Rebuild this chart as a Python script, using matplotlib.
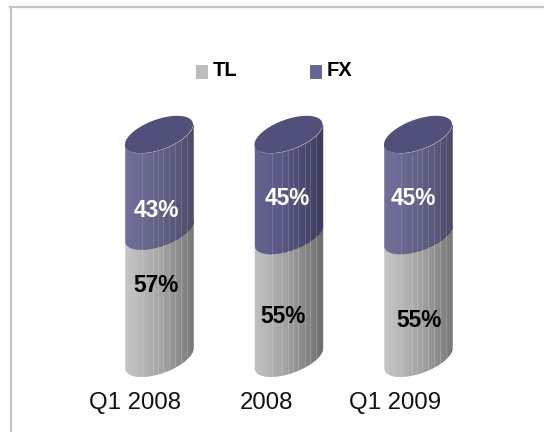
import numpy as np
import matplotlib
matplotlib.use('Agg')
import matplotlib.pyplot as plt
from matplotlib.colors import to_rgb

plt.rcParams['font.family'] = ['Liberation Sans', 'DejaVu Sans']

categories = ['Q1 2008', '2008', 'Q1 2009']
tl = [57, 55, 55]
fx = [43, 45, 45]

W, H = 544, 432
fig = plt.figure(figsize=(W / 100, H / 100), dpi=100)

# axes placed so 0-100% is the cylinder height, one category = 129.5 px
left_px = 159 - 0.5 * 129.5
ax = fig.add_axes([left_px / W, (H - 357.5) / H, 3 * 129.5 / W, 223 / H])
ax.set_xlim(-0.5, 2.5)
ax.set_ylim(0, 100)
ax.patch.set_alpha(0)
for s in ax.spines.values():
    s.set_visible(False)
ax.set_yticks([])

# cylinder shape, in axes units
half_w = 34 / 129.5
tilt = 10 / 2.23
depth = 15.8 / 2.23
stripes = [0.25, 0.41, 0.49, 0.565, 0.64, 0.74, 0.82, 0.91]


def front_arc(u, y0):
    # lower edge of the tilted ellipse, u runs -1..1 across the width
    return y0 + tilt * u - depth * np.sqrt(1 - u ** 2)


def shade(col_l, col_r, t):
    return tuple((1 - t) * a + t * b for a, b in zip(to_rgb(col_l), to_rgb(col_r)))


def draw_side(xc, y0, y1, col_l, col_r, col_st):
    edges = np.linspace(-1, 1, 69)
    for a, b in zip(edges[:-1], edges[1:]):
        u = np.linspace(a, b, 4)
        t = (a + 1) / 2
        ax.fill_between(xc + u * half_w, front_arc(u, y0), front_arc(u, y1),
                        color=shade(col_l, col_r, t ** 1.3), lw=0.3, zorder=2, clip_on=False)
    for st in stripes:
        u = st * 2 - 1
        ax.plot([xc + u * half_w] * 2, [front_arc(u, y0), front_arc(u, y1)],
                color=col_st, lw=0.6, alpha=0.35, zorder=3, clip_on=False)


for i, (a, b) in enumerate(zip(tl, fx)):
    draw_side(i, 0, a, '#bfbfbf', '#6c6c6c', '#d8d8d8')
    draw_side(i, a, a + b, '#636392', '#3c3c5c', '#a8a8c8')
    th = np.linspace(0, 2 * np.pi, 120)
    ax.fill(i + half_w * np.cos(th), a + b + tilt * np.cos(th) + depth * np.sin(th),
            color='#50507a', lw=0, zorder=4, clip_on=False)

# category labels sit left of the cylinders
ax.set_xticks([i + off for i, off in enumerate([-0.185, -0.17, -0.178])])
ax.set_xticklabels(categories, fontsize=17.3, color='#111111')
ax.tick_params(axis='x', length=0, pad=25)

# data labels, nudged by hand like in the original
tl_shift = [(-3, 8), (-5, -20), (1, -24)]
fx_shift = [(-3, -28), (-1, -14), (-5, -14)]
for i in range(3):
    ax.annotate(f'{tl[i]}%', (i, tl[i] / 2), xytext=tl_shift[i], textcoords='offset pixels',
                ha='center', va='center', fontsize=16.3, fontweight='bold', color='black', zorder=6)
    ax.annotate(f'{fx[i]}%', (i, tl[i] + fx[i] / 2), xytext=fx_shift[i], textcoords='offset pixels',
                ha='center', va='center', fontsize=16.3, fontweight='bold', color='white', zorder=6)

# legend and frame drawn in figure pixels
px = fig.transFigure
def fx_x(v): return v / W
def fx_y(v): return 1 - v / H

for x0, name, c in [(196, 'TL', '#bdbdbd'), (310, 'FX', '#66669a')]:
    fig.patches.append(plt.Rectangle((fx_x(x0), fx_y(79)), 12 / W, 14 / H, transform=px, color=c, lw=0))
    fig.text(fx_x(x0 + 17), fx_y(71), name, fontsize=14.5, fontweight='bold', va='center', ha='left')

frame = '#c4c4c4'
fig.add_artist(plt.Line2D([fx_x(10), fx_x(544)], [fx_y(7), fx_y(7)], color=frame, lw=1.6))
fig.add_artist(plt.Line2D([fx_x(10.5), fx_x(10.5)], [fx_y(7), fx_y(432)], color=frame, lw=1.6))

fig.savefig('out.png', dpi=100, facecolor='white')
